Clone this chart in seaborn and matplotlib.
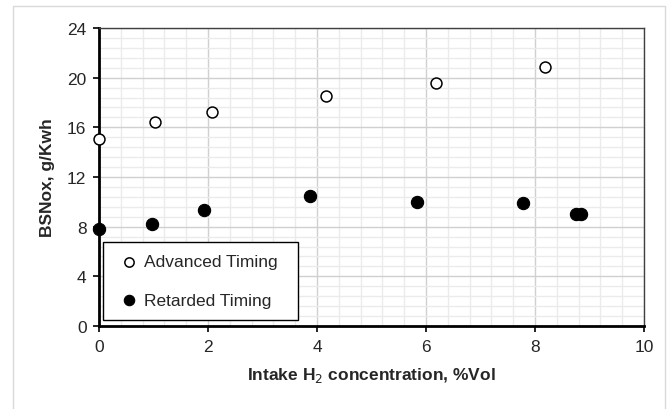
"""
BSNOx against intake hydrogen concentration for advanced and retarded
injection timing. Saves out.png.
"""
import numpy as np
import pandas as pd
import matplotlib.pyplot as plt
import seaborn as sns
from matplotlib.patches import Rectangle
from matplotlib.ticker import MultipleLocator

# values
ADV_H2 = [0.0, 1.02, 2.07, 4.16, 6.18, 8.19]
ADV_NOX = [15.1, 16.45, 17.25, 18.55, 19.6, 20.85]
RET_H2 = [0.0, 0.97, 1.92, 3.87, 5.83, 7.78, 8.76, 8.85]
RET_NOX = [7.8, 8.2, 9.35, 10.45, 10.0, 9.9, 9.05, 9.0]
SERIES = ["Advanced Timing", "Retarded Timing"]

sns.set_theme(style="white")
plt.rcParams["font.family"] = ["Liberation Sans", "DejaVu Sans"]


def main():
    df = pd.DataFrame({
        "h2": ADV_H2 + RET_H2,
        "nox": ADV_NOX + RET_NOX,
        "series": [SERIES[0]] * len(ADV_H2) + [SERIES[1]] * len(RET_H2),
    })

    fig = plt.figure(figsize=(6.71, 4.10), dpi=100)
    ax = fig.add_axes([99 / 671, 1 - 327 / 410, 545 / 671, 298 / 410])

    # light outer frame like the spreadsheet chart area
    fig.patches.append(Rectangle((13 / 671, -0.05), 652 / 671, 1.05 - 7 / 410,
                                 transform=fig.transFigure, fill=False,
                                 edgecolor="#d9d9d9", linewidth=1.0))

    sns.scatterplot(data=df[df["series"] == SERIES[0]], x="h2", y="nox", ax=ax,
                    marker="o", s=62, facecolor="white", edgecolor="black",
                    linewidth=1.1, label=SERIES[0], zorder=3, clip_on=False)
    sns.scatterplot(data=df[df["series"] == SERIES[1]], x="h2", y="nox", ax=ax,
                    marker="o", s=78, color="black", edgecolor="black",
                    linewidth=0.8, label=SERIES[1], zorder=3, clip_on=False)

    ax.set_xlim(0, 10)
    ax.set_ylim(0, 24)
    ax.xaxis.set_major_locator(MultipleLocator(2))
    ax.xaxis.set_minor_locator(MultipleLocator(0.4))
    ax.yaxis.set_major_locator(MultipleLocator(4))
    ax.yaxis.set_minor_locator(MultipleLocator(0.8))
    ax.grid(which="major", color="#d0d0d0", linewidth=1.0)
    ax.grid(which="minor", color="#ebebeb", linewidth=1.0)
    ax.set_axisbelow(True)

    for side in ["left", "bottom"]:
        ax.spines[side].set_color("black")
        ax.spines[side].set_linewidth(2.0)
    for side in ["top", "right"]:
        ax.spines[side].set_color("#404040")
        ax.spines[side].set_linewidth(1.0)

    ax.tick_params(which="major", direction="out", length=4, width=1.2,
                   color="black", labelsize=12.5, pad=5, left=True, bottom=True)
    ax.tick_params(which="minor", length=0)

    ax.set_xlabel("Intake H$_2$ concentration, %Vol", fontsize=12.5,
                  fontweight="bold", labelpad=8)
    ax.set_ylabel("BSNox, g/Kwh", fontsize=12.5, fontweight="bold", labelpad=9)

    leg = ax.legend(loc="lower left", bbox_to_anchor=(0.007, 0.02, 0.358, 0.26),
                    mode="expand", borderaxespad=0, fontsize=12.5, frameon=True,
                    fancybox=False, borderpad=0.7, labelspacing=1.35,
                    handlelength=1.65, handletextpad=0.0, markerscale=0.85,
                    framealpha=1)
    leg.get_frame().set_edgecolor("black")
    leg.get_frame().set_linewidth(1.0)

    fig.savefig("out.png", dpi=100)
    plt.close(fig)


if __name__ == "__main__":
    main()
